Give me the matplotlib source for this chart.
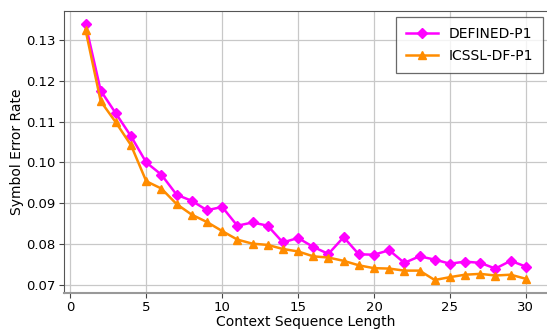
import numpy as np
import matplotlib
matplotlib.use('Agg')
import matplotlib.pyplot as plt

seq_len = list(range(1, 31))

defined_p1 = [0.1339, 0.1176, 0.1120, 0.1064, 0.1000, 0.0970, 0.0921, 0.0906, 0.0883, 0.0891,
              0.0845, 0.0853, 0.0845, 0.0804, 0.0815, 0.0793, 0.0776, 0.0817, 0.0775, 0.0774,
              0.0785, 0.0754, 0.0770, 0.0762, 0.0752, 0.0757, 0.0754, 0.0740, 0.0759, 0.0745]

icssl_df_p1 = [0.1325, 0.1150, 0.1098, 0.1042, 0.0954, 0.0936, 0.0898, 0.0872, 0.0854, 0.0832,
               0.0811, 0.0801, 0.0798, 0.0788, 0.0782, 0.0770, 0.0767, 0.0759, 0.0748, 0.0741,
               0.0740, 0.0735, 0.0735, 0.0712, 0.0719, 0.0725, 0.0727, 0.0723, 0.0725, 0.0715]

fig = plt.figure(figsize=(5.47, 3.29), dpi=100)
ax = fig.add_axes([63.5 / 547, 1 - 292.8 / 329, (547.8 - 63.5) / 547, (292.8 - 11.3) / 329])

ax.plot(seq_len, defined_p1, color='magenta', marker='D', markersize=5.5, linewidth=1.8, label='DEFINED-P1')
ax.plot(seq_len, icssl_df_p1, color='darkorange', marker='^', markersize=6, linewidth=1.8, label='ICSSL-DF-P1')

ax.set_xlabel('Context Sequence Length', fontsize=10, labelpad=0.5)
ax.set_ylabel('Symbol Error Rate', fontsize=10, labelpad=1.5)
ax.set_xticks([0, 5, 10, 15, 20, 25, 30])
ax.set_yticks([0.07, 0.08, 0.09, 0.10, 0.11, 0.12, 0.13])
ax.tick_params(labelsize=9.5, color='#444444', length=3.5, pad=2.5)
ax.grid(True, color='#c8c8c8', linewidth=0.9)
ax.set_axisbelow(True)
for s in ax.spines.values():
    s.set_color('#555555')
ax.spines['bottom'].set_color('#999999')
ax.spines['bottom'].set_linewidth(1.5)

leg = ax.legend(loc='upper right', fontsize=10, fancybox=False, edgecolor='#444444',
                borderpad=0.7, labelspacing=0.6, handlelength=2.3, borderaxespad=0,
                bbox_to_anchor=(0.99, 0.98))
leg.get_frame().set_linewidth(0.9)

fig.savefig('out.png', dpi=100)
